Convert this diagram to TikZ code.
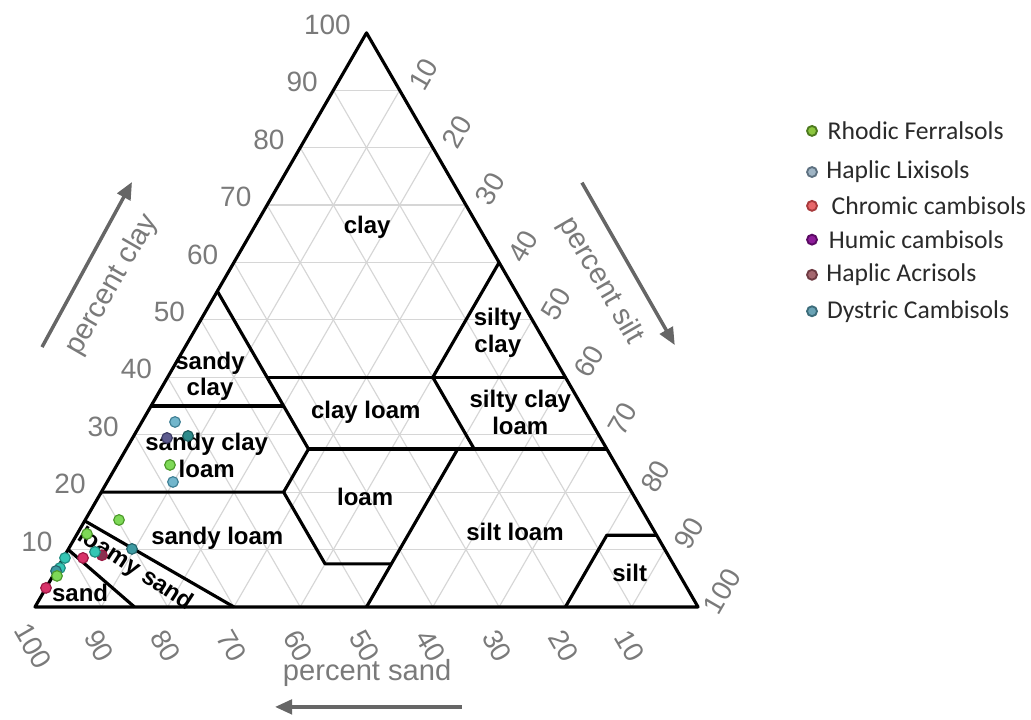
\documentclass[tikz,border=0pt]{standalone}
\usepackage{fontspec}
\setmainfont{Liberation Sans}
\newfontfamily\legendfont{Carlito}
\usetikzlibrary{arrows.meta,positioning}

\definecolor{axisgray}{HTML}{7A7A7A}
\definecolor{arrowgray}{HTML}{666666}
\definecolor{gridgray}{HTML}{D6D6D6}
\definecolor{legendgray}{HTML}{2A2A2A}
\definecolor{ferralfill}{HTML}{8CC63F}\definecolor{ferraldraw}{HTML}{4D7A1F}
\definecolor{lixifill}{HTML}{9FB4C4}\definecolor{lixidraw}{HTML}{5D7080}
\definecolor{chromfill}{HTML}{E8676A}\definecolor{chromdraw}{HTML}{A83A3C}
\definecolor{humicfill}{HTML}{8E1B9A}\definecolor{humicdraw}{HTML}{5A0A63}
\definecolor{acrifill}{HTML}{A5676F}\definecolor{acridraw}{HTML}{6E3A42}
\definecolor{dysfill}{HTML}{6AA3B5}\definecolor{dysdraw}{HTML}{3C6C7A}
\definecolor{ptgreen}{HTML}{7ED957}\definecolor{ptgreend}{HTML}{4C9A2A}
\definecolor{ptcyan}{HTML}{35C6B4}\definecolor{ptcyand}{HTML}{1F8C80}
\definecolor{ptteal}{HTML}{3E9AA2}\definecolor{pttealdk}{HTML}{24666D}
\definecolor{ptred}{HTML}{D8336A}\definecolor{ptredd}{HTML}{9C1A45}
\definecolor{ptmaroon}{HTML}{8A3050}
\definecolor{ptblue}{HTML}{72B6CC}\definecolor{ptblued}{HTML}{3F7F94}
\definecolor{ptpurple}{HTML}{5D5B8E}\definecolor{ptpurpled}{HTML}{3B3A63}
\definecolor{ptdteal}{HTML}{2E8B8B}\definecolor{ptdteald}{HTML}{1C5C5C}

\tikzset{
  ternary/.style={x={(0.1cm,0cm)}, y={(0.05cm,0.0866cm)}},
  gridline/.style={draw=gridgray, line width=0.5pt},
  border/.style={line width=1.35pt, line join=round},
  region/.style={font=\fontsize{10.3}{11.5}\selectfont\bfseries, align=center, inner sep=0pt},
  ticklabel/.style={text=axisgray, font=\fontsize{12}{14}\selectfont, inner sep=0pt},
  axistitle/.style={text=axisgray, font=\fontsize{12.5}{14}\selectfont, inner sep=0pt},
  axisarrow/.style={draw=arrowgray, line width=1.5pt, -{Triangle[length=0.26cm,width=0.22cm]}},
  sample/.style={circle, inner sep=0pt, minimum size=0.16cm, line width=0.5pt},
  legendmark/.style={circle, inner sep=0pt, minimum size=0.15cm, line width=0.8pt},
  legendtext/.style={font=\legendfont\fontsize{11}{13}\selectfont, text=legendgray, anchor=west, inner sep=0pt},
}

\begin{document}
\begin{tikzpicture}[ternary]
\useasboundingbox (-0.528cm,-1.704cm) rectangle (15.023cm,9.155cm);

\foreach \k in {10,20,...,90} {
  \pgfmathtruncatemacro{\r}{100-\k}
  \draw[gridline] (0,\k) -- (\r,\k);
  \draw[gridline] (\k,0) -- (\k,\r);
  \draw[gridline] (\r,0) -- (0,\r);
}

\draw[border] (0,10) -- (15,0);
\draw[border] (0,15) -- (30,0);
\draw[border] (0,20) -- (27.5,20) -- (40,7.5) -- (50,7.5);
\draw[border] (50,0) -- (50,27.5);
\draw[border] (27.5,27.5) -- (72.5,27.5);
\draw[border] (27.5,20) -- (27.5,27.5);
\draw[border] (0,35) -- (20,35);
\draw[border] (0,55) -- (27.5,27.5);
\draw[border] (15,40) -- (60,40);
\draw[border] (40,60) -- (40,40) -- (52.5,27.5);
\draw[border] (80,0) -- (80,12.5) -- (87.5,12.5);
\draw[border] (0,0) coordinate (sandcorner) -- (100,0) coordinate (siltcorner)
  -- (0,100) coordinate (claycorner) -- cycle;

\foreach \v in {10,20,...,100} {
  \pgfmathtruncatemacro{\r}{100-\v}
  \node[ticklabel, anchor=east] (clay\v) at ([shift={(-0.23cm,0.12cm)}]0,\v) {\v};
  \node[ticklabel, rotate=60] (silt\v) at ([shift={(0.36cm,0.24cm)}]\v,\r) {\v};
  \node[ticklabel, rotate=-60] (sand\v) at ([shift={(-0.03cm,-0.59cm)}]\r,0) {\v};
}

\node[region] (clayreg) at (5.01cm,5.72cm) {clay};
\node[region] (siltyclay) at (6.98cm,4.13cm) {silty\\clay};
\node[region] (sandyclay) at (2.64cm,3.48cm) {sandy\\clay};
\node[region] (clayloam) at (4.99cm,2.94cm) {clay loam};
\node[region] (siltyclayloam) at (7.32cm,2.94cm) {silty clay\\loam};
\node[region] (sandyclayloam) at (2.59cm,2.29cm) {sandy clay\\loam};
\node[region] (loam) at (4.98cm,1.66cm) {loam};
\node[region] (sandyloam) at (2.75cm,1.04cm) {sandy loam};
\node[region] (siltloam) at (7.24cm,1.13cm) {silt loam};
\node[region] (silt) at (8.97cm,0.51cm) {silt};
\node[region] (sand) at (0.68cm,0.21cm) {sand};
\node[region, rotate=-33] (loamysand) at (1.51cm,0.56cm) {loamy sand};

\node[sample, fill=ptmaroon, draw=ptredd] (p5) at (1.01cm,0.78cm) {};
\node[sample, fill=ptgreen, draw=ptgreend] (p1) at (1.267cm,1.312cm) {};
\node[sample, fill=ptgreen, draw=ptgreend] (p2) at (0.784cm,1.101cm) {};
\node[sample, fill=ptteal, draw=pttealdk] (p3) at (1.463cm,0.875cm) {};
\node[sample, fill=ptcyan, draw=ptcyand] (p4) at (0.905cm,0.830cm) {};
\node[sample, fill=ptred, draw=ptredd] (p6) at (0.724cm,0.739cm) {};
\node[sample, fill=ptcyan, draw=ptcyand] (p7) at (0.452cm,0.739cm) {};
\node[sample, fill=ptcyan, draw=ptcyand] (p8) at (0.377cm,0.588cm) {};
\node[sample, fill=ptteal, draw=pttealdk] (p9) at (0.317cm,0.543cm) {};
\node[sample, fill=ptgreen, draw=ptgreend] (p10) at (0.332cm,0.468cm) {};
\node[sample, fill=ptred, draw=ptredd] (p11) at (0.166cm,0.287cm) {};
\node[sample, fill=ptblue, draw=ptblued] (p12) at (2.112cm,2.790cm) {};
\node[sample, fill=ptpurple, draw=ptpurpled] (p13) at (1.991cm,2.549cm) {};
\node[sample, fill=ptdteal, draw=ptdteald] (p14) at (2.308cm,2.579cm) {};
\node[sample, fill=ptgreen, draw=ptgreend] (p15) at (2.036cm,2.142cm) {};
\node[sample, fill=ptblue, draw=ptblued] (p16) at (2.081cm,1.885cm) {};

\node[axistitle, rotate=60] (claytitle) at (1.16cm,4.86cm) {percent clay};
\node[axistitle, rotate=-60] (silttitle) at (8.53cm,4.92cm) {percent silt};
\node[axistitle] (sandtitle) at (5.01cm,-0.995cm) {percent sand};
\coordinate (claytail) at (0.106cm,3.92cm);
\coordinate (clayhead) at (1.463cm,6.41cm);
\coordinate (silttail) at (8.25cm,6.40cm);
\coordinate (silthead) at (9.65cm,3.95cm);
\coordinate (sandtail) at (6.44cm,-1.508cm);
\coordinate (sandhead) at (3.62cm,-1.508cm);
\draw[axisarrow] (claytail) -- (clayhead);
\draw[axisarrow] (silttail) -- (silthead);
\draw[axisarrow] (sandtail) -- (sandhead);

\node[legendmark, fill=ferralfill, draw=ferraldraw] (m1) at (11.72cm,7.18cm) {};
\node[legendmark, fill=lixifill, draw=lixidraw] (m2) at (11.72cm,6.56cm) {};
\node[legendmark, fill=chromfill, draw=chromdraw] (m3) at (11.72cm,6.05cm) {};
\node[legendmark, fill=humicfill, draw=humicdraw] (m4) at (11.72cm,5.54cm) {};
\node[legendmark, fill=acrifill, draw=acridraw] (m5) at (11.72cm,5.01cm) {};
\node[legendmark, fill=dysfill, draw=dysdraw] (m6) at (11.72cm,4.46cm) {};
\node[legendtext, right=0.14cm of m1] (l1) {Rhodic Ferralsols};
\node[legendtext, right=0.12cm of m2] (l2) {Haplic Lixisols};
\node[legendtext, right=0.2cm of m3] (l3) {Chromic cambisols};
\node[legendtext, right=0.16cm of m4] (l4) {Humic cambisols};
\node[legendtext, right=0.12cm of m5] (l5) {Haplic Acrisols};
\node[legendtext, right=0.13cm of m6] (l6) {Dystric Cambisols};
\end{tikzpicture}
\end{document}
